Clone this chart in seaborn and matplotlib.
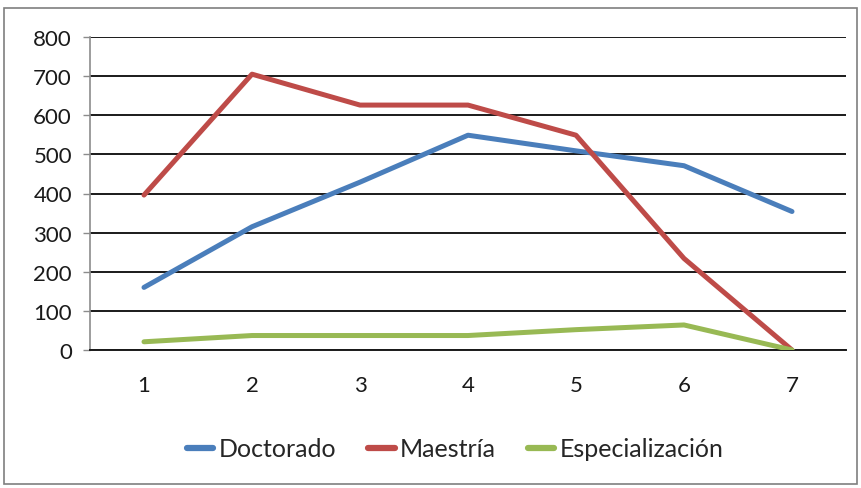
import matplotlib
matplotlib.use("Agg")
import matplotlib.pyplot as plt
from matplotlib.patches import Rectangle
import seaborn as sns
import pandas as pd

# Graduates per period, by programme level
periods = [1, 2, 3, 4, 5, 6, 7]
doctorado = [160, 315, 429, 549, 509, 471, 354]
maestria = [396, 705, 626, 626, 549, 234, 0]
especializacion = [21, 37, 37, 37, 52, 64, 0]
series_names = ["Doctorado", "Maestría", "Especialización"]
series_colors = ["#4A7EBB", "#BE4B48", "#98B954"]
y_ticks = [0, 100, 200, 300, 400, 500, 600, 700, 800]

df = pd.concat([
    pd.DataFrame({"periodo": periods, "valor": vals, "nivel": name})
    for name, vals in zip(series_names, [doctorado, maestria, especializacion])
])

sns.set_theme(style="white")
plt.rcParams["font.family"] = ["Lato", "DejaVu Sans"]

fig = plt.figure(figsize=(8.62, 4.89), dpi=100)
ax = fig.add_axes([90 / 862, 1 - 351 / 489, (846 - 90) / 862, (351 - 38) / 489])

sns.lineplot(data=df, x="periodo", y="valor", hue="nivel",
             palette=dict(zip(series_names, series_colors)),
             linewidth=3.6, ax=ax, legend=False, zorder=3)

ax.set_xlim(0.5, 7.5)
ax.set_ylim(0, 800)
ax.set_yticks(y_ticks)
ax.set_xticks(periods)
ax.set_xticklabels([str(p) for p in periods])
ax.yaxis.grid(True, color="#1a1a1a", linewidth=1.4, zorder=1)
ax.xaxis.grid(False)
ax.set_xlabel("")
ax.set_ylabel("")
for side in ["top", "right"]:
    ax.spines[side].set_visible(False)
ax.spines["left"].set_color("#8c8c8c")
ax.spines["left"].set_linewidth(1.2)
ax.spines["bottom"].set_color("#1a1a1a")
ax.spines["bottom"].set_linewidth(1.4)
ax.tick_params(axis="y", labelsize=16, colors="#1a1a1a", left=True,
               length=5, width=1, color="#8c8c8c", pad=8)
ax.tick_params(axis="x", labelsize=16, colors="#1a1a1a", bottom=False, pad=12)

handles = [plt.Line2D([], [], color=c, linewidth=4.5) for c in series_colors]
fig.legend(handles, series_names, loc="center", bbox_to_anchor=(0.528, 1 - 450 / 489),
           ncol=3, frameon=False, fontsize=18, handlelength=1.05,
           handletextpad=0.2, columnspacing=1.3)

# Chart frame
fig.patches.append(Rectangle((4 / 862, 4 / 489), 853 / 862, 1 - 13 / 489,
                             transform=fig.transFigure, fill=False,
                             edgecolor="#7f7f7f", linewidth=1.2))

fig.savefig("out.png", dpi=100, facecolor="white")
